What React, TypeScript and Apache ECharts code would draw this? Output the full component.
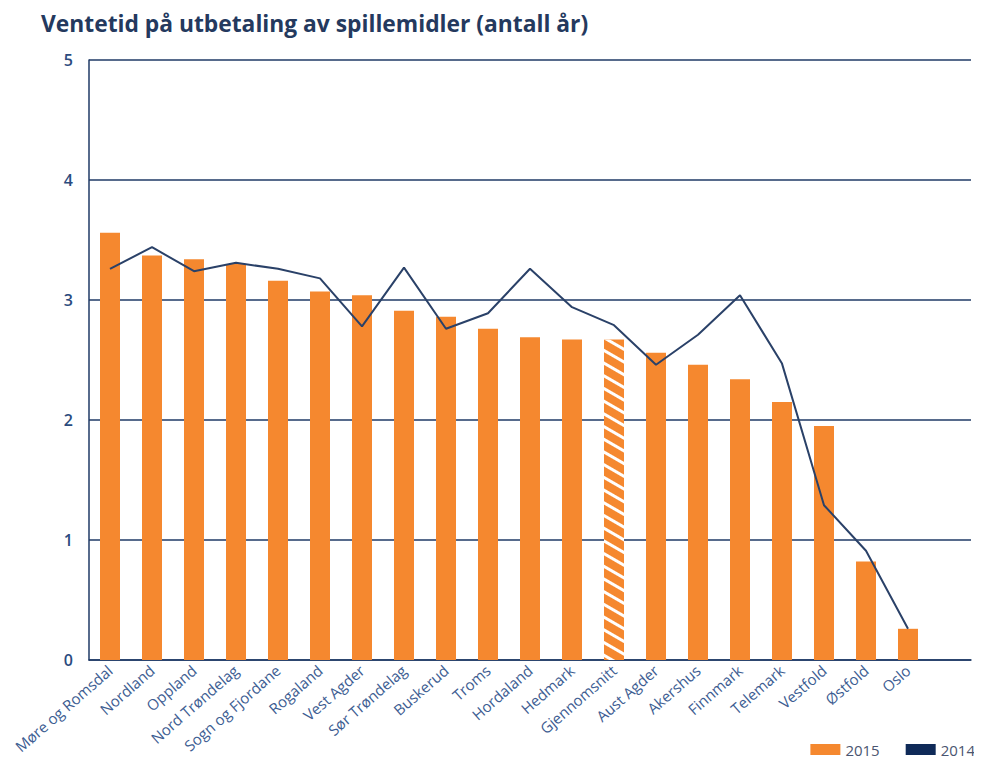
import React, { useEffect, useRef } from "react";
import * as echarts from "echarts";

const titleText = "Ventetid på utbetaling av spillemidler (antall år)";
const regions = [
  "Møre og Romsdal", "Nordland", "Oppland", "Nord Trøndelag", "Sogn og Fjordane",
  "Rogaland", "Vest Agder", "Sør Trøndelag", "Buskerud", "Troms",
  "Hordaland", "Hedmark", "Gjennomsnitt", "Aust Agder", "Akershus",
  "Finnmark", "Telemark", "Vestfold", "Østfold", "Oslo",
];
const values2015 = [
  3.56, 3.37, 3.34, 3.30, 3.16, 3.07, 3.04, 2.91, 2.86, 2.76,
  2.69, 2.67, 2.67, 2.56, 2.46, 2.34, 2.15, 1.95, 0.82, 0.26,
];
const values2014 = [
  3.26, 3.44, 3.24, 3.31, 3.26, 3.18, 2.78, 3.27, 2.76, 2.89,
  3.26, 2.94, 2.79, 2.46, 2.71, 3.04, 2.47, 1.29, 0.91, 0.26,
];
const averageName = "Gjennomsnitt";
const yTicks = [0, 1, 2, 3, 4, 5];

const NAVY = "#1f3a66";
const ORANGE = "#f5882f";

export default function App() {
  const ref = useRef<HTMLDivElement>(null);
  useEffect(() => {
    if (!ref.current) return;
    const chart = echarts.init(ref.current, null, { renderer: "svg" });
    const cats = [...regions, ""];
    const barData = values2015.map((v, i) =>
      regions[i] === averageName
        ? {
            value: v,
            itemStyle: {
              color: ORANGE,
              decal: {
                color: "#ffffff",
                symbol: "rect",
                dashArrayX: [1, 0],
                dashArrayY: [2.5, 8],
                rotation: Math.PI / 6,
              },
            },
          }
        : v
    );
    chart.setOption({
      animation: false,
      backgroundColor: "#ffffff",
      title: {
        text: titleText,
        left: 36,
        top: 7,
        textStyle: { fontFamily: "Open Sans", fontSize: 22.8, fontWeight: "bold", color: "#24395e" },
      },
      legend: {
        right: 2,
        bottom: 2,
        itemWidth: 30,
        itemHeight: 11,
        itemGap: 26,
        textStyle: { fontFamily: "Open Sans", fontSize: 15, color: "#4a5570" },
        data: [
          { name: "2015", icon: "rect", itemStyle: { color: ORANGE } },
          { name: "2014", icon: "rect", itemStyle: { color: "#0f2a58" } },
        ],
      },
      grid: { left: 89, right: 11, top: 60, bottom: 104, containLabel: false },
      xAxis: {
        type: "category",
        data: cats,
        axisTick: { show: false },
        axisLine: { show: true, lineStyle: { color: NAVY, width: 1.5 } },
        axisLabel: {
          interval: 0,
          rotate: 41,
          margin: 8,
          fontFamily: "Open Sans",
          fontSize: 15,
          color: "#3d5d92",
        },
      },
      yAxis: {
        type: "value",
        min: yTicks[0],
        max: yTicks[yTicks.length - 1],
        interval: 1,
        axisLine: { show: true, lineStyle: { color: NAVY, width: 1.5 } },
        axisTick: { show: false },
        splitLine: { lineStyle: { color: NAVY, width: 1.5 } },
        axisLabel: {
          margin: 16,
          fontFamily: "Open Sans",
          fontSize: 16,
          fontWeight: 600,
          color: "#2b4b7e",
        },
      },
      series: [
        {
          name: "2015",
          type: "bar",
          data: barData,
          barWidth: 20,
          itemStyle: { color: ORANGE },
        },
        {
          name: "2014",
          type: "line",
          data: values2014,
          showSymbol: false,
          symbol: "none",
          itemStyle: { color: "#0f2a58" },
          lineStyle: { color: "#2a4168", width: 2 },
        },
      ],
    });
    return () => chart.dispose();
  }, []);
  return <div ref={ref} style={{ width: 982, height: 764, margin: -8 }} />;
}
